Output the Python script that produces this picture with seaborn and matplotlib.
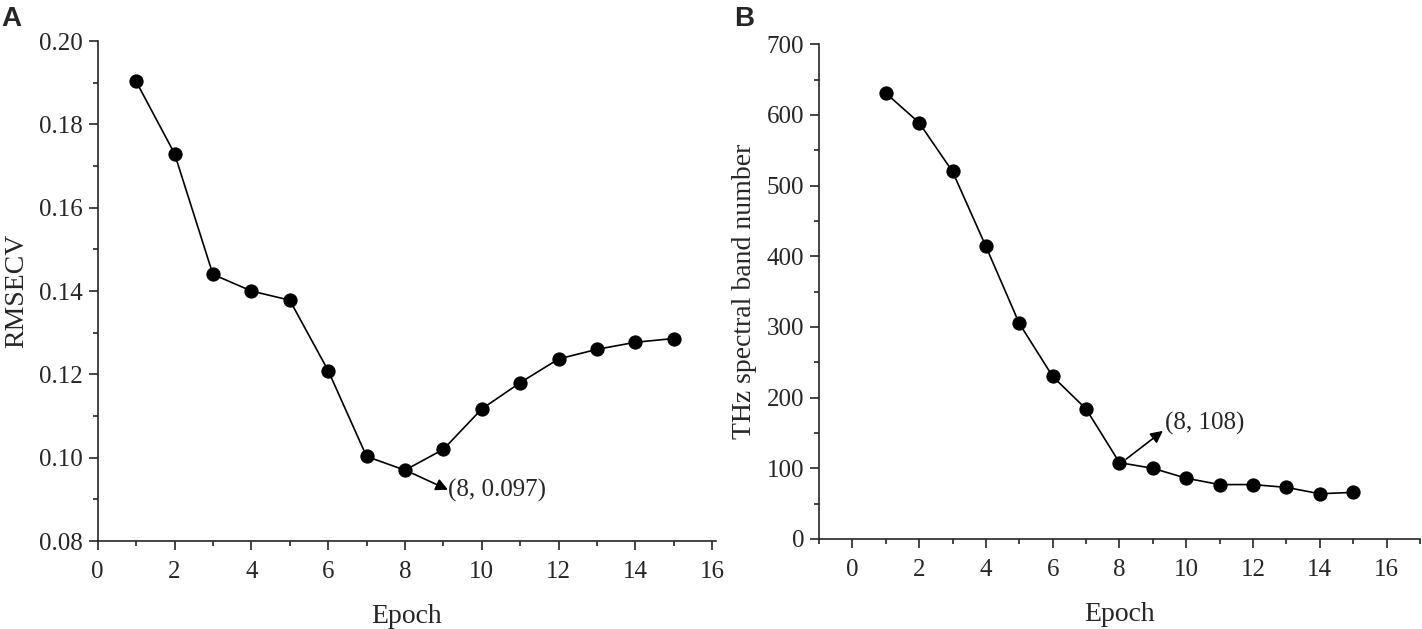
import pandas as pd
import matplotlib
matplotlib.use("Agg")
import matplotlib.pyplot as plt
import seaborn as sns
from matplotlib.ticker import MultipleLocator, FormatStrFormatter

# data
epoch = list(range(1, 16))
rmsecv = [0.1903, 0.1730, 0.1440, 0.1400, 0.1378, 0.1209, 0.1003, 0.0970,
          0.1020, 0.1117, 0.1180, 0.1237, 0.1260, 0.1277, 0.1286]
band_number = [631, 589, 520, 414, 305, 230, 184, 108, 100, 86, 77, 77, 73, 64, 66]

df_a = pd.DataFrame({"Epoch": epoch, "RMSECV": rmsecv})
df_b = pd.DataFrame({"Epoch": epoch, "Bands": band_number})

sns.set_style("ticks")
plt.rcParams["font.family"] = ["Liberation Serif", "DejaVu Serif"]
plt.rcParams["axes.linewidth"] = 1.2
for k in ["xtick.major.width", "ytick.major.width", "xtick.minor.width", "ytick.minor.width"]:
    plt.rcParams[k] = 1.2
plt.rcParams["xtick.major.size"] = 6.5
plt.rcParams["ytick.major.size"] = 6.5
plt.rcParams["xtick.minor.size"] = 3.5
plt.rcParams["ytick.minor.size"] = 3.5

fig = plt.figure(figsize=(14.22, 6.29), dpi=100)
ax1 = fig.add_axes([0.0687, 0.1399, 0.4349, 0.7949])
ax2 = fig.add_axes([0.5759, 0.1431, 0.4227, 0.7865])

line_kw = dict(color="black", linewidth=1.2, marker="o", markersize=9.5,
               markeredgecolor="black", markerfacecolor="black")
arrow_kw = dict(arrowstyle="-|>", color="black", lw=1.2, mutation_scale=18,
                shrinkA=0, shrinkB=0)

# A
sns.lineplot(data=df_a, x="Epoch", y="RMSECV", ax=ax1, **line_kw)
ax1.set_xlim(0, 16.1)
ax1.set_ylim(0.08, 0.20)
ax1.xaxis.set_major_locator(MultipleLocator(2))
ax1.xaxis.set_minor_locator(MultipleLocator(1))
ax1.yaxis.set_major_locator(MultipleLocator(0.02))
ax1.yaxis.set_minor_locator(MultipleLocator(0.01))
ax1.yaxis.set_major_formatter(FormatStrFormatter("%.2f"))
ax1.set_xlabel("Epoch", fontsize=20, labelpad=15)
ax1.set_ylabel("RMSECV", fontsize=20, labelpad=7)
ax1.annotate("", xy=(9.12, 0.0923), xytext=(8.2, 0.0962), arrowprops=arrow_kw)
ax1.text(9.12, 0.0922, "(8, 0.097)", fontsize=18, va="center", ha="left")

# B
sns.lineplot(data=df_b, x="Epoch", y="Bands", ax=ax2, **line_kw)
ax2.set_xlim(-1, 17)
ax2.set_ylim(0, 700)
ax2.xaxis.set_major_locator(MultipleLocator(2))
ax2.xaxis.set_minor_locator(MultipleLocator(1))
ax2.yaxis.set_major_locator(MultipleLocator(100))
ax2.yaxis.set_minor_locator(MultipleLocator(50))
ax2.set_xlabel("Epoch", fontsize=20, labelpad=15)
ax2.set_ylabel("THz spectral band number", fontsize=20, labelpad=7)
ax2.annotate("", xy=(9.3, 153), xytext=(8.2, 113), arrowprops=arrow_kw)
ax2.text(9.35, 163, "(8, 108)", fontsize=18, va="center", ha="left")

for ax in (ax1, ax2):
    sns.despine(ax=ax)
    ax.tick_params(which="both", direction="out")
    ax.tick_params(axis="x", which="major", labelsize=18, pad=8)
    ax.tick_params(axis="y", which="major", labelsize=18, pad=4)

fig.text(0.001, 0.99, "A", fontsize=20, fontweight="bold",
         family="Liberation Sans", va="top", ha="left")
fig.text(0.5165, 0.99, "B", fontsize=20, fontweight="bold",
         family="Liberation Sans", va="top", ha="left")

fig.savefig("out.png", dpi=100)
